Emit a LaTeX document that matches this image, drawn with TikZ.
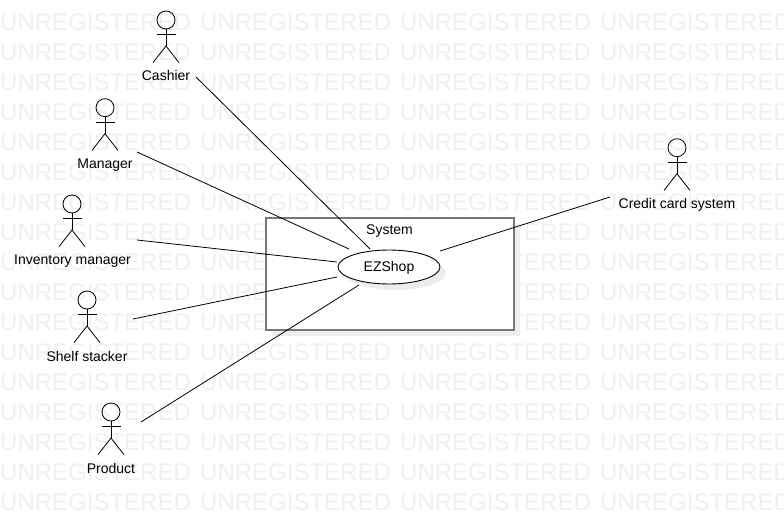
\documentclass[tikz,border=0pt]{standalone}
\usepackage{fontspec}
\setmainfont{Liberation Sans}
\definecolor{wm}{HTML}{F0F0F0}
\definecolor{sysline}{HTML}{777777}
\definecolor{shade}{HTML}{EDEDED}
\tikzset{
  px/.style={x=1pt,y=-1pt},
  watermark/.style={anchor=west,inner sep=0pt,text=wm,font=\fontsize{24}{24}\selectfont},
  label/.style={inner sep=0pt,anchor=base,font=\fontsize{14}{16}\selectfont,text=black},
  actorline/.style={draw=black,line width=0.8pt},
  conn/.style={draw=black,line width=0.8pt},
  sysbox/.style={draw=sysline,line width=1.6pt,fill=white,minimum width=248pt,minimum height=112pt,inner sep=0pt},
  usecase/.style={draw=black,line width=0.9pt,fill=white,ellipse,minimum width=102pt,minimum height=34pt,inner sep=0pt},
  shadowbox/.style={fill=shade,minimum width=248pt,minimum height=112pt,inner sep=0pt},
  shadowell/.style={fill=shade,ellipse,minimum width=102pt,minimum height=34pt,inner sep=0pt},
}
\usetikzlibrary{shapes.geometric}
\newcommand{\stickman}[2]{% x, y of head centre
  \draw[actorline] (#1,#2) circle (9);
  \draw[actorline] (#1,#2+9) -- (#1,#2+26);
  \draw[actorline] (#1-9.5,#2+14.7) -- (#1+9.5,#2+14.7);
  \draw[actorline] (#1-13,#2+42.7) -- (#1,#2+26) -- (#1+13,#2+42.7);
}
\begin{document}
\begin{tikzpicture}[px]
\useasboundingbox (0,0) rectangle (784,521);
\fill[white] (0,0) rectangle (784,521);
% watermark
\foreach \r in {0,...,16}{
  \foreach \c in {0,1,2,3}{
    \node[watermark] at ({\c*200},{22+\r*30}) {UNREGISTERED};
  }
}
% system
\node[shadowbox] at (396,280) {};
\node[sysbox] (sys) at (390,274) {};
\node[label] (systitle) at (389.5,235) {System};
\node[shadowell] at (395,273) {};
\node[usecase] (ezshop) at (389,267) {};
\node[label] (ezlabel) at (389,272) {EZShop};
% actors
\stickman{166}{20}
\stickman{105}{107.7}
\stickman{72}{204}
\stickman{87}{300}
\stickman{111}{412}
\stickman{677}{147.7}
\node[label] (cashier) at (166,81) {Cashier};
\node[label] (manager) at (105,169) {Manager};
\node[label] (inventory) at (72.5,265) {Inventory manager};
\node[label] (shelf) at (87,361) {Shelf stacker};
\node[label] (product) at (111,473) {Product};
\node[label] (credit) at (677,209) {Credit card system};
% connector ends
\coordinate (c1) at (196,77);   \coordinate (e1) at (370,249);
\coordinate (c2) at (137,152);  \coordinate (e2) at (349,249);
\coordinate (c3) at (137,240);  \coordinate (e3) at (337,262);
\coordinate (c4) at (133,319);  \coordinate (e4) at (337,277);
\coordinate (c5) at (141,422);  \coordinate (e5) at (359,285);
\coordinate (c6) at (610,197);  \coordinate (e6) at (440,251);
\foreach \i in {1,...,6}{\draw[conn] (c\i) -- (e\i);}
\end{tikzpicture}
\end{document}
